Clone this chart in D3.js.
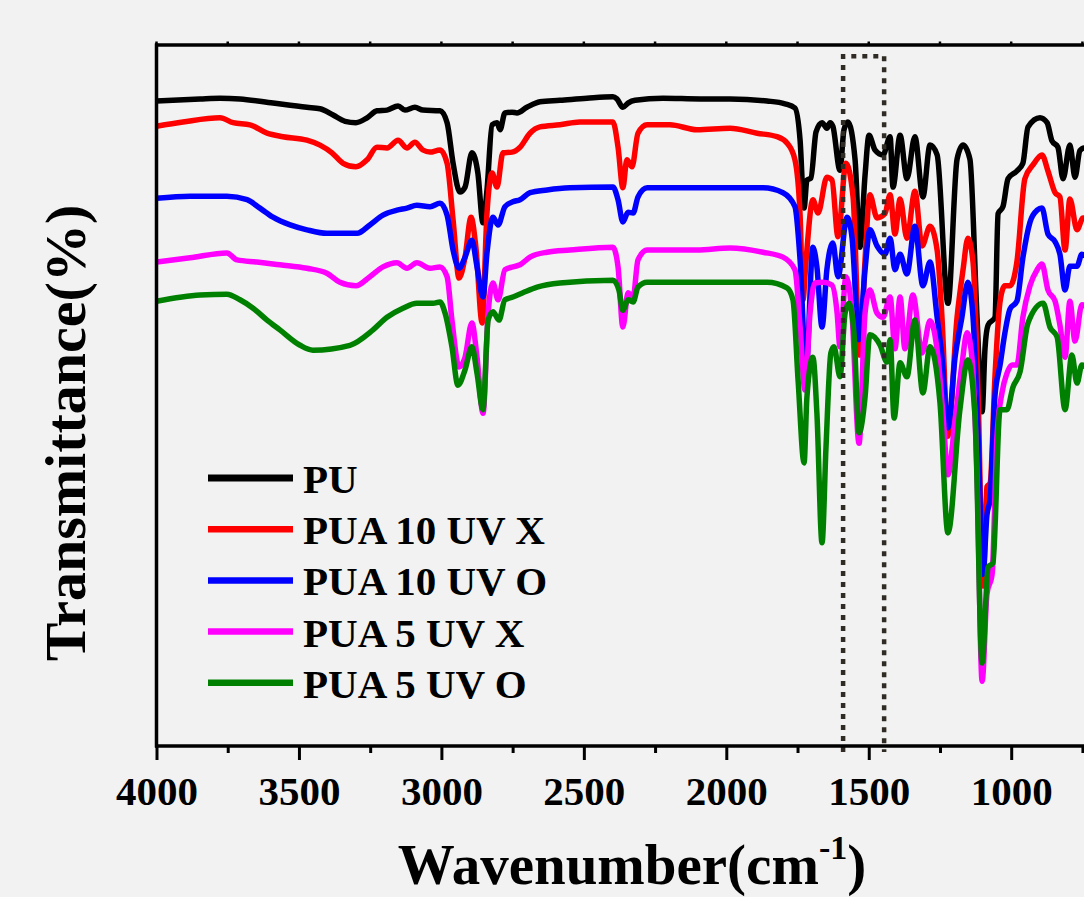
<!DOCTYPE html>
<html>
<head>
<meta charset="utf-8">
<script src="https://cdn.jsdelivr.net/npm/d3@7"></script>
<style>
  html, body { margin: 0; padding: 0; background: #f2f2f2; overflow: hidden; }
  svg { display: block; }
  text { font-family: "Liberation Serif", "Times New Roman", serif; font-weight: bold; fill: #000; }
</style>
</head>
<body>
<svg id="chart" width="1084" height="897"></svg>
<script>
// ---------------- data (wavenumber cm-1, transmittance a.u.) ----------------
const seriesNames = ["PU", "PUA 10 UV X", "PUA 10 UV O", "PUA 5 UV X", "PUA 5 UV O"];
const seriesColors = ["#000000", "#ff0000", "#0000ff", "#ff00ff", "#008000"];

const wnPU = [4000,3847,3777,3707,3591,3472,3426,3380,3338,3300,3261,3226,3191,3152,3128,3093,3065,3005,2980,2959,2935,2917,2893,2872,2854,2840,2822,2805,2794,2777,2752,2735,2700,2654,2584,2489,2398,2384,2363,2345,2320,2222,2092,1987,1857,1794,1759,1741,1727,1717,1703,1685,1664,1647,1636,1626,1601,1587,1573,1548,1531,1513,1499,1478,1450,1425,1415,1390,1366,1338,1310,1285,1260,1222,1190,1169,1145,1120,1102,1092,1081,1057,1046,1029,1011,980,959,941,899,874,857,836,818,794,776,759,744,720];
const tPU  = [92.0,92.3,92.4,92.3,91.7,91.1,90.9,90.0,89.1,88.9,89.6,90.6,90.7,91.3,90.7,91.1,90.7,90.6,88.9,83.1,79.0,79.7,84.6,81.7,74.6,79.3,88.6,88.9,87.9,90.3,90.4,90.3,91.1,91.9,92.1,92.4,92.6,92.3,91.1,91.7,92.1,92.4,92.3,92.3,92.0,91.6,91.0,86.4,76.7,80.7,81.0,87.6,88.9,88.1,88.9,88.4,82.1,87.9,89.0,83.6,71.1,81.4,87.1,85.0,84.3,86.9,79.7,87.1,80.9,86.9,78.3,85.7,84.3,63.1,83.7,85.7,83.7,61.1,47.6,56.6,60.0,61.1,75.9,76.9,80.9,82.0,83.1,88.3,89.6,88.9,86.3,85.4,80.9,85.7,81.1,84.9,85.3,83.0];

const wnR10X = [4000,3907,3777,3731,3672,3612,3556,3472,3426,3384,3345,3300,3261,3226,3191,3152,3121,3093,3065,3040,3005,2980,2959,2938,2917,2896,2879,2857,2840,2822,2805,2784,2752,2724,2689,2654,2584,2514,2398,2380,2363,2349,2331,2310,2278,2198,2103,1987,1892,1822,1787,1759,1741,1731,1720,1696,1678,1647,1629,1608,1580,1555,1531,1513,1496,1471,1443,1425,1408,1390,1366,1338,1313,1285,1260,1243,1222,1190,1169,1152,1134,1116,1099,1085,1074,1057,1039,1022,1004,980,952,923,892,871,846,829,811,794,769,748,720];
const tR10X  = [88.4,89.0,89.6,88.9,88.6,87.4,86.9,86.4,85.7,84.6,83.1,82.6,83.6,85.4,85.3,86.4,85.3,86.1,85.0,84.7,85.0,83.1,75.0,66.7,69.7,75.4,71.1,60.3,76.0,81.7,79.7,84.6,84.7,85.4,87.4,88.3,88.6,89.0,89.0,85.4,79.6,83.6,82.6,87.4,88.6,88.6,87.9,88.1,87.4,86.9,86.0,83.6,75.7,63.6,69.3,77.9,76.0,81.1,80.7,72.6,83.1,78.3,55.7,69.3,78.6,75.3,75.9,78.6,73.0,78.0,72.4,79.1,71.3,74.1,70.7,61.1,44.1,61.1,67.9,72.4,69.0,49.9,22.7,36.9,37.4,52.6,63.4,65.6,65.6,69.0,80.9,82.9,84.3,82.0,78.9,78.3,70.7,78.0,73.6,75.3,74.0];

const wnB10O = [4000,3882,3753,3682,3637,3591,3531,3472,3402,3296,3251,3205,3156,3121,3086,3040,3005,2980,2959,2938,2917,2893,2875,2854,2840,2819,2801,2777,2749,2724,2689,2629,2549,2398,2380,2363,2345,2327,2310,2278,2103,1871,1801,1759,1741,1720,1696,1682,1664,1647,1626,1608,1576,1559,1534,1513,1496,1471,1443,1425,1408,1390,1366,1338,1310,1285,1260,1243,1222,1197,1173,1152,1134,1116,1099,1085,1074,1057,1039,1022,1004,980,959,934,909,892,871,846,829,811,794,769,752,720];
const tB10O  = [78.1,78.4,78.4,77.9,76.7,75.4,74.3,73.6,73.1,73.1,74.3,75.7,76.4,76.7,77.1,76.9,77.4,75.7,70.7,68.1,69.7,72.1,68.3,64.0,70.3,75.4,74.3,76.9,77.6,77.9,78.9,79.3,79.6,79.7,77.9,74.7,76.1,76.0,78.3,79.6,79.6,79.6,78.9,76.9,69.3,53.6,71.1,68.3,59.7,67.9,71.7,66.9,75.4,72.6,57.9,67.9,73.6,71.3,70.1,72.4,67.9,70.1,67.3,74.1,65.6,69.0,61.1,55.4,45.3,55.4,61.1,66.1,61.1,44.1,24.4,32.9,35.1,49.9,54.3,58.9,62.3,63.4,69.6,74.7,76.4,76.7,73.0,71.9,70.1,65.0,68.4,68.4,70.1,69.0];

const wnM5X = [4000,3882,3753,3717,3647,3567,3472,3402,3356,3300,3251,3205,3156,3121,3086,3040,3005,2980,2963,2938,2917,2893,2875,2854,2836,2819,2801,2777,2749,2724,2689,2629,2549,2398,2380,2363,2345,2327,2310,2278,2103,1987,1871,1801,1759,1741,1724,1706,1689,1661,1629,1611,1601,1580,1559,1534,1513,1496,1471,1450,1425,1408,1390,1373,1345,1313,1285,1257,1239,1222,1197,1173,1155,1138,1120,1102,1085,1067,1050,1032,1015,997,980,959,934,909,892,871,846,829,811,794,776,752,720];
const tM5X  = [69.0,69.6,70.3,69.3,69.0,68.6,68.1,67.4,66.1,65.6,66.9,68.3,68.9,68.1,68.9,68.1,68.3,66.9,60.7,54.0,55.4,60.3,55.4,47.4,61.7,66.0,63.6,67.9,68.3,68.6,69.7,70.4,70.7,71.1,68.3,59.7,64.6,64.0,69.3,70.7,70.7,71.0,70.4,69.7,67.9,59.7,50.7,61.7,66.0,66.1,65.7,61.7,56.9,66.9,61.7,43.1,61.7,65.0,61.7,61.1,64.0,56.6,64.0,56.6,64.3,56.0,60.6,55.4,47.0,38.6,46.4,54.3,58.9,55.4,38.6,9.1,21.6,24.4,44.1,50.4,53.1,54.3,54.3,61.1,65.6,67.9,68.7,65.0,63.4,60.0,55.4,63.4,57.7,62.9,62.0];

const wnG5O = [4000,3847,3753,3707,3661,3612,3567,3496,3451,3321,3240,3191,3135,3086,3029,3005,2987,2963,2942,2917,2893,2875,2854,2836,2819,2798,2777,2749,2714,2664,2584,2398,2377,2363,2345,2327,2310,2278,2103,1857,1787,1766,1748,1727,1717,1696,1682,1664,1650,1633,1622,1601,1583,1569,1552,1534,1513,1496,1460,1436,1425,1411,1390,1366,1338,1310,1285,1250,1222,1180,1152,1127,1102,1081,1064,1039,1015,994,969,941,888,864,839,811,787,769,752,720];
const tG5O  = [63.4,64.3,64.4,63.6,62.4,60.7,59.3,57.1,56.4,57.1,59.3,61.1,62.4,63.1,63.1,63.3,61.7,56.9,51.4,53.6,56.9,53.1,47.9,60.7,61.9,60.7,63.6,64.0,64.6,65.4,66.0,66.4,65.0,62.1,63.6,63.3,65.4,66.1,66.1,66.1,65.3,63.6,52.1,40.3,49.7,55.4,47.4,28.9,42.6,56.0,56.9,52.6,61.7,63.1,58.9,44.6,49.7,58.6,57.1,54.7,57.9,46.7,54.6,52.6,60.7,50.3,56.9,48.9,30.3,47.9,55.0,46.9,11.7,25.4,26.0,47.9,47.9,51.1,53.3,60.3,63.1,59.7,58.3,47.9,55.7,51.7,54.3,53.0];

const xMajorTicks = [4000, 3500, 3000, 2500, 2000, 1500, 1000];
const xMinorTicks = [3750, 3250, 2750, 2250, 1750, 1250, 750];
const highlightBand = [1590, 1446];   // dotted box (cm-1)
const xTitle = "Wavenumber(cm";
const xTitleSup = "-1";
const yTitle = "Transmittance(%)";

// ---------------- layout ----------------
const W = 1084, H = 897;
const svg = d3.select("#chart");
svg.append("rect").attr("width", W).attr("height", H).attr("fill", "#f2f2f2");

const x = d3.scaleLinear().domain([4000, 400]).range([156.5, 156.5 + 3600 * 0.2849]);
const y = d3.scaleLinear().domain([0, 100]).range([745, 45]);

const plotLeft = x(4000), plotTop = y(100), plotBottom = y(0) + 1;

svg.append("clipPath").attr("id", "plotclip")
  .append("rect").attr("x", plotLeft).attr("y", plotTop).attr("width", W - plotLeft + 10).attr("height", plotBottom - plotTop);

const allSeries = [
  {wn: wnPU,   t: tPU},
  {wn: wnR10X, t: tR10X},
  {wn: wnB10O, t: tB10O},
  {wn: wnM5X,  t: tM5X},
  {wn: wnG5O,  t: tG5O}
].map((s, i) => ({name: seriesNames[i], color: seriesColors[i], pts: s.wn.map((w, j) => [w, s.t[j]])}));

const line = d3.line().x(d => x(d[0])).y(d => y(d[1])).curve(d3.curveMonotoneX);

const gLines = svg.append("g").attr("clip-path", "url(#plotclip)");
gLines.selectAll("path.series").data(allSeries).join("path")
  .attr("class", "series")
  .attr("d", d => line(d.pts))
  .attr("fill", "none")
  .attr("stroke", d => d.color)
  .attr("stroke-width", 5.5)
  .attr("stroke-linejoin", "round")
  .attr("stroke-linecap", "round");

// dotted highlight box
const boxPath = d3.path();
boxPath.moveTo(x(highlightBand[0]), y(-1));
boxPath.lineTo(x(highlightBand[0]), y(98.4));
boxPath.lineTo(x(highlightBand[1]), y(98.4));
boxPath.lineTo(x(highlightBand[1]), y(-1));
svg.append("path").attr("d", boxPath.toString())
  .attr("fill", "none").attr("stroke", "#302c25").attr("stroke-width", 4.5)
  .attr("stroke-dasharray", "5,6");

// axes frame
const axisColor = "#000";
svg.append("line").attr("x1", plotLeft).attr("x2", plotLeft).attr("y1", plotTop - 1.5).attr("y2", plotBottom + 1.5)
  .attr("stroke", axisColor).attr("stroke-width", 3.5);
svg.append("line").attr("x1", plotLeft - 1.5).attr("x2", W).attr("y1", plotTop).attr("y2", plotTop)
  .attr("stroke", axisColor).attr("stroke-width", 3.5);

// bottom axis with D3
const xAxis = d3.axisBottom(x).tickValues(xMajorTicks).tickSize(14).tickPadding(16).tickFormat(d3.format("d"));
const gx = svg.append("g").attr("transform", `translate(0,${plotBottom})`).call(xAxis);
gx.select(".domain").attr("stroke", axisColor).attr("stroke-width", 3.5)
  .attr("d", `M${plotLeft - 1.5},0H${W}`);
gx.selectAll(".tick line").attr("stroke", axisColor).attr("stroke-width", 3);
gx.selectAll(".tick text")
  .attr("font-family", '"Liberation Serif", "Times New Roman", serif')
  .attr("font-weight", "bold").attr("font-size", 41).attr("fill", "#000");

const xAxisMinor = d3.axisBottom(x).tickValues(xMinorTicks).tickSize(7).tickFormat("");
const gxm = svg.append("g").attr("transform", `translate(0,${plotBottom})`).call(xAxisMinor);
gxm.select(".domain").remove();
gxm.selectAll(".tick line").attr("stroke", axisColor).attr("stroke-width", 3);

// small top ticks
const topTicks = xMajorTicks.concat(xMinorTicks);
svg.append("g").selectAll("line").data(topTicks).join("line")
  .attr("x1", d => x(d)).attr("x2", d => x(d))
  .attr("y1", plotTop).attr("y2", plotTop - 3.5)
  .attr("stroke", axisColor).attr("stroke-width", 2.5);

// axis titles
const xt = svg.append("text").attr("x", 632).attr("y", 884).attr("text-anchor", "middle")
  .attr("font-size", 57);
xt.append("tspan").text(xTitle);
xt.append("tspan").attr("dy", -25).attr("font-size", 34).text(xTitleSup);
xt.append("tspan").attr("dy", 25).attr("font-size", 57).text(")");

svg.append("text").attr("transform", "translate(85,433) rotate(-90)")
  .attr("text-anchor", "middle").attr("font-size", 58).text(yTitle);

// legend
const legendY0 = 478, legendDy = 51.2;
const lg = svg.append("g");
const items = lg.selectAll("g").data(allSeries).join("g")
  .attr("transform", (d, i) => `translate(0,${legendY0 + i * legendDy})`);
items.append("line").attr("x1", 208).attr("x2", 293).attr("y1", 0).attr("y2", 0)
  .attr("stroke", d => d.color).attr("stroke-width", (d, i) => i === 0 ? 7 : 6.5);
items.append("text").attr("x", 303).attr("y", 15).attr("font-size", 41).text(d => d.name);
</script>
</body>
</html>
